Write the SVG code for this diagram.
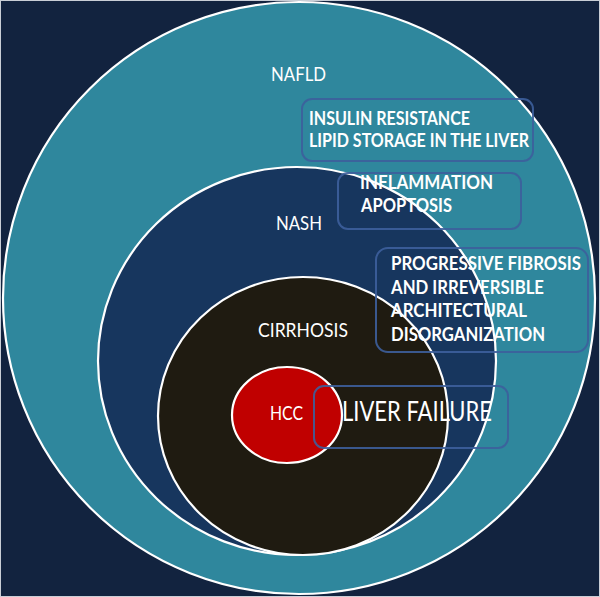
<svg xmlns="http://www.w3.org/2000/svg" width="600" height="597" viewBox="0 0 600 597">
<style>
.ring{stroke:#ffffff;stroke-width:2.2}
.lbl{font-family:Lato,"Open Sans","Liberation Sans",sans-serif;font-size:20px;fill:#ffffff}
.btxt{font-family:Lato,"Open Sans","Liberation Sans",sans-serif;font-size:18px;font-weight:bold;fill:#ffffff}
.box{fill:none;stroke:#3d5f9c;stroke-width:2;stroke-opacity:0.9}
</style>
<rect x="0" y="0" width="600" height="597" fill="#12233f"/>
<rect x="0.5" y="0.5" width="599" height="596" fill="none" stroke="#c9ced6" stroke-width="1"/>
<g id="nafld">
<circle class="ring" cx="299" cy="298" r="296" fill="#2f879d"/>
<text class="lbl" x="271" y="81" textLength="55" lengthAdjust="spacingAndGlyphs">NAFLD</text>
</g>
<g id="nash">
<ellipse class="ring" cx="297" cy="361" rx="199" ry="194" fill="#17365e"/>
<text class="lbl" x="276" y="230" textLength="46" lengthAdjust="spacingAndGlyphs">NASH</text>
</g>
<g id="cirrhosis">
<ellipse class="ring" cx="303" cy="416" rx="145" ry="139" fill="#1f1b11"/>
<text class="lbl" x="258" y="337" textLength="90" lengthAdjust="spacingAndGlyphs">CIRRHOSIS</text>
</g>
<g id="hcc">
<ellipse class="ring" cx="287" cy="415" rx="55" ry="48" fill="#c00000"/>
<text class="lbl" x="270" y="420" textLength="33" lengthAdjust="spacingAndGlyphs">HCC</text>
</g>
<g id="box-insulin">
<rect class="box" x="302" y="99" width="231" height="62" rx="10"/>
<text class="btxt" x="309" y="125" textLength="161" lengthAdjust="spacingAndGlyphs">INSULIN RESISTANCE</text>
<text class="btxt" x="309" y="147" textLength="220" lengthAdjust="spacingAndGlyphs">LIPID STORAGE IN THE LIVER</text>
</g>
<g id="box-inflammation">
<rect class="box" x="338" y="173" width="183" height="56" rx="10"/>
<text class="btxt" x="360" y="189" textLength="133" lengthAdjust="spacingAndGlyphs">INFLAMMATION</text>
<text class="btxt" x="361" y="212" textLength="91" lengthAdjust="spacingAndGlyphs">APOPTOSIS</text>
</g>
<g id="box-fibrosis">
<rect class="box" x="376" y="248" width="212" height="104" rx="12"/>
<text class="btxt" x="391" y="270" textLength="190" lengthAdjust="spacingAndGlyphs">PROGRESSIVE FIBROSIS</text>
<text class="btxt" x="391" y="293.5" textLength="153" lengthAdjust="spacingAndGlyphs">AND IRREVERSIBLE</text>
<text class="btxt" x="391" y="317" textLength="136" lengthAdjust="spacingAndGlyphs">ARCHITECTURAL</text>
<text class="btxt" x="391" y="340.5" textLength="154" lengthAdjust="spacingAndGlyphs">DISORGANIZATION</text>
</g>
<g id="box-liver-failure">
<rect class="box" x="314" y="386" width="194" height="62" rx="10"/>
<text class="lbl" x="342" y="421" style="font-size:26px" textLength="150" lengthAdjust="spacingAndGlyphs">LIVER FAILURE</text>
</g>
</svg>
